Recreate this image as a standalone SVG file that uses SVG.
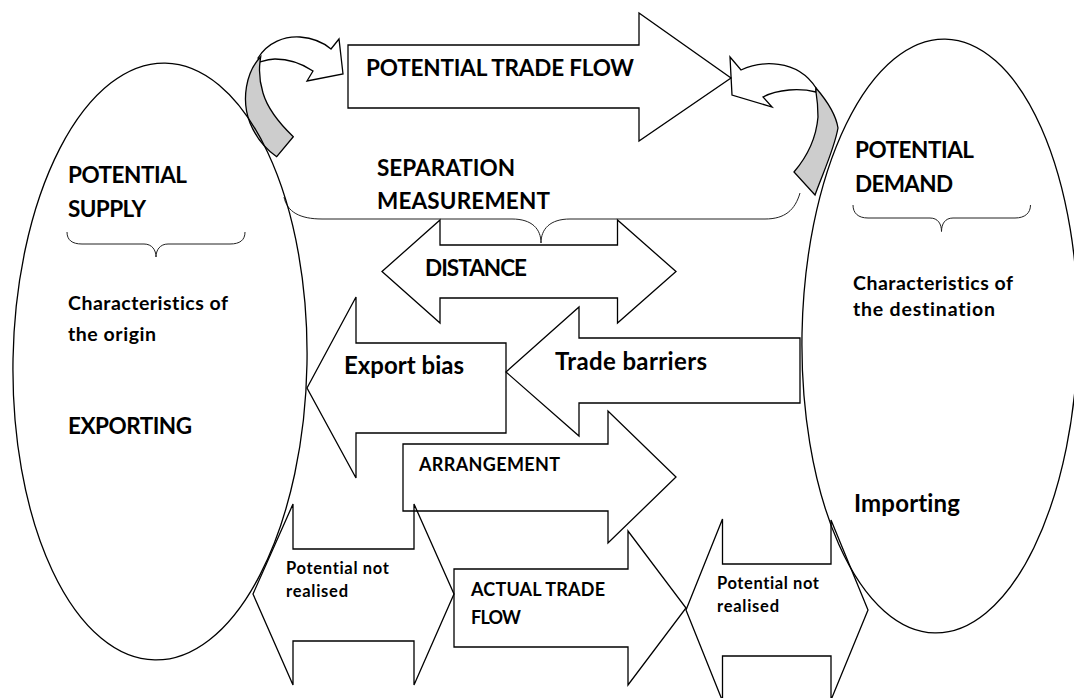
<svg xmlns="http://www.w3.org/2000/svg" width="1074" height="698" viewBox="0 0 1074 698">
<style>
.s{fill:none;stroke:#000;stroke-width:1.3;stroke-linejoin:miter}
.g{fill:#cdcdcd;stroke:#000;stroke-width:1.3}
.b{fill:none;stroke:#222;stroke-width:1}
text{font-family:Lato,"Open Sans","Liberation Sans",sans-serif;font-weight:700;fill:#000;font-variant-ligatures:none;font-feature-settings:"liga" 0,"clig" 0}
.h{font-size:22.5px}
.m{font-size:19.5px}
.l{font-size:24px}
.sm{font-size:16.5px}
.a{font-size:18px}
</style>
<rect width="1074" height="698" fill="#fff"/>
<g id="connectors">
  <path class="s" d="M 258,58 C 268,42 285,36 300,37 C 313,38 324,43 331,49 L 339,39 L 343,74 L 307,81 L 313,71 C 301,63 287,59 275,59 C 268,59 263,61 260,62 Z"/>
  <path class="g" d="M 260.7,56.7 C 246,72 241,100 250,123 C 257,140 267,150 276.7,156.7 L 293.3,136.7 C 280,124 268,110 263,93 C 259,80 259,70 260,61.7 Z"/>
  <path class="s" d="M 741,70 C 760,61 797,58 816,88 L 816,92 C 800,88 778,89 763,97 L 772,107 L 732,95 L 730,57 Z"/>
  <path class="g" d="M 816,88 C 828,102 836,115 838,128 C 834,150 822,175 815,195 L 794,172 C 806,158 816,140 818,117 C 818,108 817,98 816,92 Z"/>
</g>
<g id="potential-trade-flow">
  <path class="s" d="M 348,45 H 639 V 13 L 731,78 L 639,141 V 108 H 348 Z"/>
  <text class="h" x="366" y="76" textLength="268">POTENTIAL TRADE FLOW</text>
</g>
<g id="separation">
  <path class="b" d="M 284,197 C 287,212 300,219 322,219 L 512,219 C 532,219 541,229 541,243 C 541,229 550,219 570,219 L 765,219 C 785,219 795,210 800,193"/>
  <text class="h" x="377" y="176" textLength="138">SEPARATION</text>
  <text class="h" x="377" y="209" textLength="173">MEASUREMENT</text>
</g>
<g id="supply">
  <ellipse class="s" cx="160" cy="361.5" rx="147" ry="298.5" transform="rotate(1 160 361.5)"/>
  <text class="h" x="68" y="183" textLength="119">POTENTIAL</text>
  <text class="h" x="68" y="216.5" textLength="78">SUPPLY</text>
  <path class="b" d="M 67,232 C 67,240 72,244 82,244 L 144,244 C 152,244 156,250 156,257 C 156,250 160,244 168,244 L 230,244 C 240,244 245,240 245,232"/>
  <text class="m" x="68" y="310" textLength="160">Characteristics of</text>
  <text class="m" x="68" y="341" textLength="88">the origin</text>
  <text class="h" x="68" y="434" textLength="124">EXPORTING</text>
</g>
<g id="demand">
  <ellipse class="s" cx="940" cy="336" rx="138" ry="297" transform="rotate(1 940 336)"/>
  <text class="h" x="855" y="158" textLength="119">POTENTIAL</text>
  <text class="h" x="855" y="192" textLength="98">DEMAND</text>
  <path class="b" d="M 853,205 C 853,213 858,218 868,218 L 930,218 C 938,218 941.5,224 941.5,231.5 C 941.5,224 945,218 953,218 L 1015,218 C 1025,218 1030.5,213 1030.5,205"/>
  <text class="m" x="853" y="290" textLength="160">Characteristics of</text>
  <text class="m" x="853" y="316" textLength="142">the destination</text>
  <text class="l" x="854" y="512" textLength="106">Importing</text>
</g>
<g id="distance">
  <path class="s" d="M 382,271.5 L 440,220 V 245 H 617.5 V 220 L 676,271.5 L 617.5,323 V 298 H 440 V 323 Z"/>
  <text class="h" x="425" y="276" textLength="102">DISTANCE</text>
</g>
<g id="export-bias">
  <path class="s" d="M 307,388 L 356,297 V 343 H 506 V 433 H 356 V 478 Z"/>
  <text class="l" x="344" y="374" textLength="120">Export bias</text>
</g>
<g id="trade-barriers">
  <path class="s" d="M 506,372 L 579,307 V 338 H 800 V 403 H 579 V 436 Z"/>
  <text class="l" x="555" y="370" textLength="152">Trade barriers</text>
</g>
<g id="arrangement">
  <path class="s" d="M 403,444 H 608 V 411 L 676,477 L 608,543 V 511 H 403 Z"/>
  <text class="a" x="419" y="471" textLength="141">ARRANGEMENT</text>
</g>
<g id="potential-not-realised-left">
  <path class="s" d="M 253,594 L 293,504 V 549 H 414 V 504 L 454,594 L 414,685 V 641 H 293 V 685 Z"/>
  <text class="sm" x="286" y="574" textLength="103">Potential not</text>
  <text class="sm" x="286" y="597" textLength="62">realised</text>
</g>
<g id="actual-trade-flow">
  <path class="s" d="M 454,569 H 628 V 531 L 686,608 L 628,685 V 647 H 454 Z"/>
  <text class="a" x="471" y="596" textLength="134">ACTUAL TRADE</text>
  <text class="a" x="471" y="624" textLength="50">FLOW</text>
</g>
<g id="potential-not-realised-right">
  <path class="s" d="M 686,610 L 722.5,519 V 564 H 831 V 520 L 868,610 L 831,700 V 656 H 722.5 V 701 Z"/>
  <text class="sm" x="717" y="589" textLength="102">Potential not</text>
  <text class="sm" x="717" y="612" textLength="62">realised</text>
</g>
</svg>
